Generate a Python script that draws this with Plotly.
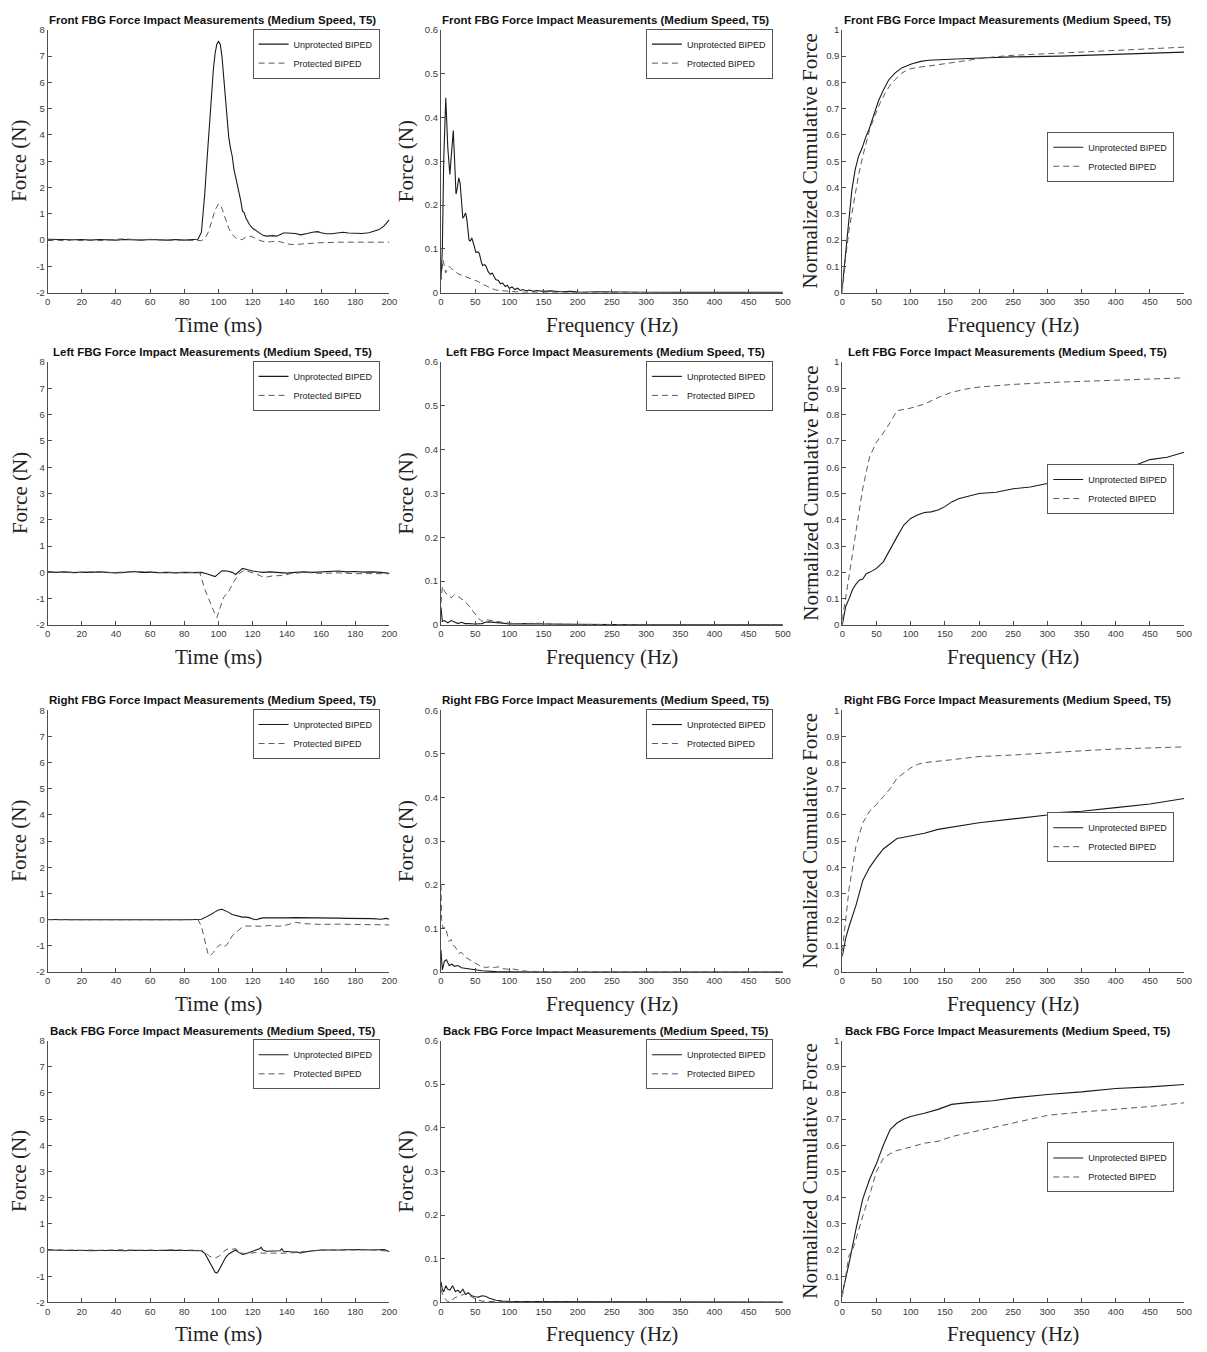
import plotly.graph_objects as go

# ------------------------------------------------------------------ data
# ---- Front sensor
front_time_unp_t = [0, 5, 10, 15, 20, 25, 30, 35, 40, 45, 50, 55, 60, 65, 70, 75, 80, 85, 88, 90, 91, 92, 93, 94, 95, 96, 97, 98, 99, 100,
                    101, 102, 103, 104, 105, 106, 107, 108, 109, 110, 111, 112, 113, 114, 115, 116, 117, 118, 120, 122, 124, 126, 128,
                    130, 132, 134, 136, 138, 140, 142, 145, 148, 150, 152, 155, 158, 160, 163, 166, 170, 173, 176, 180, 184, 188, 191,
                    194, 197, 200]
front_time_unp_y = [0.03, 0.02, 0.03, 0.01, 0.02, 0.0, 0.02, 0.01, 0.0, 0.02, 0.01, 0.0, 0.02, 0.01, 0.0, 0.02, 0.0, 0.02, 0.03, 0.3, 1.0,
                    1.8, 2.8, 3.8, 4.8, 5.7, 6.5, 7.1, 7.45, 7.56, 7.45, 7.0, 6.2, 5.3, 4.5, 3.9, 3.5, 3.2, 2.7, 2.4, 2.2, 1.9, 1.5, 1.1,
                    1.05, 0.85, 0.7, 0.6, 0.45, 0.35, 0.27, 0.18, 0.15, 0.16, 0.17, 0.15, 0.22, 0.27, 0.27, 0.27, 0.25, 0.2, 0.22, 0.25,
                    0.3, 0.32, 0.28, 0.24, 0.24, 0.27, 0.3, 0.27, 0.26, 0.25, 0.28, 0.33, 0.4, 0.55, 0.78]
front_time_pro_t = [0, 5, 10, 15, 20, 25, 30, 35, 40, 45, 50, 55, 60, 65, 70, 75, 80, 85, 90, 92, 94, 96, 98, 100, 101, 102, 104, 106, 108,
                    110, 112, 114, 116, 118, 120, 122, 125, 128, 131, 134, 137, 140, 144, 148, 152, 160, 170, 180, 190, 195, 200]
front_time_pro_y = [-0.02, 0.0, -0.03, 0.01, -0.02, 0.0, -0.02, 0.0, 0.01, 0.05, 0.02, 0.0, 0.03, 0.01, -0.01, 0.0, -0.01, 0.0, -0.02,
                    0.05, 0.3, 0.7, 1.15, 1.38, 1.35, 1.2, 0.8, 0.45, 0.22, 0.08, 0.03, 0.02, 0.12, 0.15, 0.12, 0.04, -0.03, -0.08, -0.06,
                    -0.04, -0.08, -0.15, -0.17, -0.15, -0.12, -0.1, -0.08, -0.08, -0.08, -0.1, -0.08]

front_fft_unp_f = [0, 2, 4, 7, 10, 13, 16, 18, 20, 22, 24, 26, 28, 30, 32, 34, 36, 38, 41, 43, 45, 48, 51, 54, 56, 59, 61, 64, 66, 69, 72,
                   75, 77, 80, 84, 87, 90, 94, 97, 100, 104, 108, 112, 116, 120, 125, 130, 135, 140, 150, 160, 175, 190, 205, 230, 260,
                   300, 350, 400, 450, 500]
front_fft_unp_y = [0.03, 0.1, 0.3, 0.445, 0.33, 0.27, 0.33, 0.37, 0.3, 0.225, 0.24, 0.262, 0.25, 0.2, 0.17, 0.175, 0.182, 0.165, 0.12,
                   0.118, 0.125, 0.11, 0.092, 0.093, 0.09, 0.07, 0.062, 0.064, 0.06, 0.048, 0.042, 0.045, 0.04, 0.03, 0.028, 0.02, 0.022,
                   0.014, 0.017, 0.01, 0.013, 0.007, 0.01, 0.005, 0.007, 0.004, 0.006, 0.003, 0.005, 0.003, 0.004, 0.002, 0.003, 0.001,
                   0.002, 0.001, 0.001, 0.0005, 0.0005, 0.0005, 0.0005]
front_fft_pro_f = [0, 3, 5, 7, 10, 12, 15, 20, 25, 30, 35, 40, 45, 50, 55, 60, 65, 70, 75, 80, 90, 100, 110, 120, 150, 200, 300, 400, 500]
front_fft_pro_y = [0.03, 0.075, 0.06, 0.045, 0.055, 0.06, 0.055, 0.048, 0.043, 0.04, 0.037, 0.033, 0.03, 0.028, 0.025, 0.02, 0.016,
                   0.012, 0.009, 0.006, 0.004, 0.003, 0.002, 0.001, 0.001, 0.0005, 0.0, 0.0, 0.0]

front_cum_unp_f = [0, 3, 7, 10, 14, 19, 24, 29, 34, 39, 45, 53, 60, 68, 77, 87, 101, 115, 126, 150, 175, 203, 250, 319, 400, 500]
front_cum_unp_y = [0.02, 0.1, 0.2, 0.285, 0.39, 0.47, 0.52, 0.55, 0.59, 0.62, 0.67, 0.73, 0.77, 0.81, 0.835, 0.855, 0.87, 0.88, 0.884,
                   0.888, 0.89, 0.893, 0.897, 0.9, 0.907, 0.915]
front_cum_pro_f = [0, 5, 10, 14.5, 20, 24, 30, 34, 40, 48, 55, 63, 70, 77, 87, 97, 110, 126, 150, 174, 200, 222, 250, 319, 415, 500]
front_cum_pro_y = [0.0, 0.135, 0.24, 0.31, 0.39, 0.45, 0.52, 0.56, 0.62, 0.675, 0.72, 0.76, 0.79, 0.81, 0.835, 0.85, 0.857, 0.862, 0.87,
                   0.88, 0.89, 0.897, 0.903, 0.912, 0.925, 0.934]

# ---- Left sensor
left_time_unp_t = [0, 5, 10, 15, 20, 25, 30, 35, 40, 45, 50, 55, 60, 65, 70, 75, 80, 85, 90, 93, 96, 98, 100, 102, 105, 108, 110, 112, 114,
                   116, 118, 120, 123, 126, 130, 135, 140, 145, 150, 155, 160, 165, 170, 175, 180, 185, 190, 195, 200]
left_time_unp_y = [0.03, 0.0, 0.02, -0.01, 0.01, 0.0, 0.02, 0.0, -0.02, 0.0, 0.03, 0.0, 0.01, -0.01, 0.0, -0.02, 0.0, -0.01, 0.0, -0.05,
                   -0.1, -0.16, -0.05, 0.06, 0.05, 0.0, -0.08, 0.05, 0.15, 0.12, 0.08, 0.05, 0.02, 0.0, 0.02, 0.0, -0.03, 0.0, 0.02, 0.0,
                   0.02, 0.03, 0.05, 0.02, 0.03, 0.01, 0.02, 0.0, -0.04]
left_time_pro_t = [0, 5, 10, 15, 20, 25, 30, 35, 40, 45, 50, 55, 60, 65, 70, 75, 80, 85, 89, 92, 95, 98, 99, 101, 103, 106, 109, 112, 115,
                   118, 122, 125, 128, 132, 138, 142, 150, 160, 170, 180, 190, 200]
left_time_pro_y = [0.02, 0.0, 0.01, 0.0, -0.01, 0.02, 0.0, -0.01, 0.0, 0.0, 0.02, 0.03, 0.0, -0.01, 0.0, 0.0, 0.02, 0.0, 0.0, -0.65,
                   -1.15, -1.6, -1.72, -1.35, -0.95, -0.72, -0.35, -0.05, 0.08, 0.02, -0.06, -0.15, -0.18, -0.13, -0.12, -0.05, 0.0,
                   -0.04, -0.02, -0.05, -0.06, -0.05]

left_fft_unp_f = [0, 2, 5, 8, 10, 15, 20, 25, 30, 35, 40, 50, 60, 65, 70, 80, 90, 100, 120, 150, 200, 300, 400, 500]
left_fft_unp_y = [0.04, 0.008, 0.01, 0.006, 0.005, 0.01, 0.006, 0.003, 0.006, 0.003, 0.003, 0.002, 0.003, 0.006, 0.007, 0.006, 0.004,
                  0.002, 0.003, 0.002, 0.001, 0.0005, 0.0005, 0.0005]
left_fft_pro_f = [0, 2, 5, 10, 15, 20, 25, 30, 35, 40, 45, 50, 55, 60, 65, 70, 80, 90, 100, 120, 140, 160, 200, 300, 400, 500]
left_fft_pro_y = [0.05, 0.088, 0.077, 0.068, 0.062, 0.069, 0.065, 0.06, 0.054, 0.045, 0.035, 0.024, 0.015, 0.008, 0.012, 0.011, 0.008,
                  0.006, 0.004, 0.003, 0.004, 0.002, 0.001, 0.0005, 0.0005, 0.0005]

left_cum_unp_f = [0, 5, 10, 15, 20, 25, 30, 35, 40, 50, 60, 70, 80, 90, 100, 110, 120, 130, 140, 150, 160, 170, 180, 200, 225, 250, 275,
                  300, 325, 350, 375, 400, 425, 450, 475, 500]
left_cum_unp_y = [0.0, 0.07, 0.1, 0.135, 0.155, 0.17, 0.175, 0.195, 0.2, 0.215, 0.24, 0.29, 0.335, 0.38, 0.405, 0.418, 0.428, 0.43, 0.437,
                  0.45, 0.468, 0.48, 0.487, 0.5, 0.505, 0.518, 0.525, 0.538, 0.548, 0.562, 0.569, 0.588, 0.604, 0.629, 0.638, 0.657]
left_cum_pro_f = [0, 5, 10, 20, 30, 40, 50, 60, 70, 80, 90, 100, 120, 140, 160, 180, 200, 250, 300, 350, 400, 450, 500]
left_cum_pro_y = [0.02, 0.1, 0.19, 0.355, 0.52, 0.64, 0.695, 0.73, 0.77, 0.815, 0.82, 0.825, 0.84, 0.865, 0.885, 0.897, 0.905, 0.915,
                  0.922, 0.926, 0.93, 0.934, 0.94]

# ---- Right sensor
right_time_unp_t = [0, 5, 10, 15, 20, 25, 30, 35, 40, 45, 50, 55, 60, 65, 70, 75, 80, 85, 88, 90, 92, 94, 96, 98, 100, 102, 104, 106, 108,
                    110, 112, 114, 116, 118, 120, 122, 124, 126, 130, 135, 140, 145, 150, 155, 160, 165, 170, 175, 180, 185, 190, 195,
                    198, 200]
right_time_unp_y = [0.01, 0.0, 0.01, 0.0, 0.0, 0.01, 0.0, 0.0, 0.01, 0.0, 0.0, 0.01, 0.0, 0.0, 0.01, 0.0, 0.0, 0.01, 0.0, 0.02, 0.08,
                    0.14, 0.22, 0.3, 0.37, 0.4, 0.35, 0.28, 0.2, 0.17, 0.12, 0.1, 0.1, 0.08, 0.03, 0.0, 0.04, 0.07, 0.07, 0.06, 0.07,
                    0.08, 0.08, 0.07, 0.06, 0.07, 0.06, 0.05, 0.05, 0.06, 0.04, 0.02, 0.05, 0.02]
right_time_pro_t = [0, 5, 10, 15, 20, 25, 30, 35, 40, 45, 50, 55, 60, 65, 70, 75, 80, 85, 88, 90, 92, 94, 95, 97, 99, 101, 103, 105, 108,
                    111, 114, 116, 120, 125, 130, 135, 140, 145, 150, 160, 170, 180, 190, 200]
right_time_pro_y = [0.0, 0.01, 0.0, 0.0, 0.01, 0.0, 0.0, 0.01, 0.0, 0.0, 0.0, 0.01, 0.0, 0.0, 0.0, 0.01, 0.0, 0.0, 0.0, -0.25, -0.85,
                    -1.35, -1.38, -1.25, -1.06, -0.95, -1.05, -0.95, -0.62, -0.43, -0.27, -0.24, -0.25, -0.25, -0.22, -0.25, -0.2,
                    -0.1, -0.15, -0.18, -0.17, -0.18, -0.18, -0.2]

right_fft_unp_f = [0, 1, 2, 5, 8, 12, 16, 20, 25, 30, 40, 50, 60, 80, 100, 150, 200, 300, 400, 500]
right_fft_unp_y = [0.05, 0.02, 0.005, 0.025, 0.028, 0.015, 0.018, 0.013, 0.015, 0.01, 0.008, 0.005, 0.003, 0.001, 0.0005, 0.0003,
                   0.0003, 0.0003, 0.0003, 0.0003]
right_fft_pro_f = [0, 1, 3, 6, 9, 12, 15, 18, 22, 26, 30, 35, 40, 45, 50, 55, 60, 65, 70, 75, 80, 85, 90, 100, 105, 115, 125, 150, 200,
                   300, 400, 500]
right_fft_pro_y = [0.2, 0.12, 0.1, 0.103, 0.088, 0.07, 0.075, 0.062, 0.055, 0.043, 0.045, 0.035, 0.03, 0.025, 0.02, 0.016, 0.014, 0.01,
                   0.012, 0.01, 0.011, 0.012, 0.008, 0.006, 0.007, 0.004, 0.002, 0.001, 0.0005, 0.0003, 0.0003, 0.0003]

right_cum_unp_f = [0, 5, 10, 20, 30, 40, 50, 60, 70, 80, 90, 100, 120, 140, 160, 180, 200, 250, 275, 300, 310, 350, 400, 450, 500]
right_cum_unp_y = [0.06, 0.13, 0.175, 0.255, 0.35, 0.4, 0.437, 0.47, 0.49, 0.51, 0.515, 0.52, 0.53, 0.545, 0.553, 0.563, 0.57, 0.585,
                   0.592, 0.6, 0.608, 0.614, 0.628, 0.642, 0.663]
right_cum_pro_f = [0, 5, 10, 20, 30, 40, 50, 60, 70, 80, 90, 100, 110, 120, 150, 200, 250, 300, 350, 400, 450, 500]
right_cum_pro_y = [0.08, 0.2, 0.32, 0.48, 0.57, 0.615, 0.64, 0.67, 0.7, 0.74, 0.76, 0.78, 0.793, 0.8, 0.808, 0.823, 0.829, 0.838, 0.845,
                   0.852, 0.856, 0.86]

# ---- Back sensor
back_time_unp_t = [0, 5, 10, 15, 20, 25, 30, 35, 40, 45, 50, 55, 60, 65, 70, 75, 80, 85, 90, 92, 94, 96, 98, 99, 100, 102, 104, 106, 108,
                   110, 112, 114, 116, 118, 120, 122, 124, 125, 126, 128, 130, 134, 136, 137, 138, 142, 146, 148, 150, 155, 160, 170,
                   180, 190, 197, 200]
back_time_unp_y = [0.0, -0.01, 0.0, -0.02, -0.01, -0.03, -0.02, -0.01, -0.02, -0.03, -0.01, -0.02, -0.03, -0.02, -0.01, -0.02, -0.01,
                   -0.02, -0.03, -0.13, -0.38, -0.66, -0.85, -0.88, -0.8, -0.55, -0.3, -0.15, -0.06, 0.0, -0.1, -0.17, -0.14, -0.1,
                   -0.05, 0.0, 0.05, 0.1, 0.0, -0.05, -0.05, -0.05, -0.03, 0.05, -0.05, -0.07, -0.08, -0.12, -0.08, -0.03, 0.0, 0.0,
                   0.02, 0.0, 0.02, -0.07]
back_time_pro_t = [0, 5, 10, 15, 20, 25, 30, 35, 40, 45, 50, 55, 60, 65, 70, 75, 80, 85, 90, 92, 95, 98, 100, 102, 104, 106, 108, 110, 112,
                   114, 118, 122, 126, 130, 135, 140, 145, 150, 160, 170, 180, 190, 200]
back_time_pro_y = [0.0, 0.01, -0.01, 0.0, -0.02, 0.0, -0.01, 0.0, -0.01, 0.01, -0.01, 0.0, 0.0, -0.01, 0.0, 0.01, -0.01, 0.0, -0.02,
                   -0.08, -0.25, -0.3, -0.25, -0.15, 0.0, 0.05, 0.03, 0.05, -0.05, -0.13, -0.12, -0.1, -0.12, -0.12, -0.13, -0.12,
                   -0.1, -0.06, -0.01, 0.0, 0.02, 0.01, -0.05]

back_fft_unp_f = [0, 2, 4, 7, 10, 13, 17, 21, 25, 28, 32, 36, 40, 45, 50, 55, 60, 65, 70, 80, 90, 100, 120, 150, 200, 300, 400, 500]
back_fft_unp_y = [0.047, 0.03, 0.024, 0.038, 0.03, 0.028, 0.038, 0.025, 0.028, 0.022, 0.03, 0.018, 0.022, 0.015, 0.013, 0.012, 0.015,
                  0.014, 0.01, 0.005, 0.003, 0.002, 0.002, 0.002, 0.001, 0.0005, 0.0005, 0.0005]
back_fft_pro_f = [0, 3, 6, 10, 14, 18, 22, 26, 30, 35, 40, 45, 50, 55, 60, 70, 100, 150, 200, 300, 400, 500]
back_fft_pro_y = [0.03, 0.015, 0.008, 0.002, 0.0, 0.008, 0.012, 0.013, 0.016, 0.02, 0.017, 0.012, 0.008, 0.005, 0.003, 0.002, 0.001,
                  0.0005, 0.0005, 0.0003, 0.0003, 0.0003]

back_cum_unp_f = [0, 5, 10, 20, 30, 40, 50, 60, 70, 80, 90, 100, 120, 140, 160, 180, 200, 220, 250, 300, 350, 400, 450, 500]
back_cum_unp_y = [0.035, 0.09, 0.15, 0.28, 0.395, 0.47, 0.53, 0.6, 0.66, 0.685, 0.7, 0.71, 0.722, 0.737, 0.756, 0.762, 0.766, 0.77,
                  0.781, 0.794, 0.804, 0.817, 0.823, 0.832]
back_cum_pro_f = [0, 5, 10, 15, 20, 30, 40, 50, 60, 70, 80, 100, 120, 140, 160, 180, 200, 225, 250, 300, 350, 400, 450, 500]
back_cum_pro_y = [0.02, 0.1, 0.18, 0.2, 0.24, 0.33, 0.41, 0.5, 0.55, 0.568, 0.58, 0.593, 0.608, 0.615, 0.633, 0.645, 0.655, 0.67, 0.685,
                  0.714, 0.727, 0.737, 0.748, 0.762]

sensors = ["Front", "Left", "Right", "Back"]
series_names = ["Unprotected BIPED", "Protected BIPED"]
time_ticks = [-2, -1, 0, 1, 2, 3, 4, 5, 6, 7, 8]
time_tick_labels = ["-2", "-1", "0", "1", "2", "3", "4", "5", "6", "7", "8"]

panels = [
    [(front_time_unp_t, front_time_unp_y, front_time_pro_t, front_time_pro_y),
     (front_fft_unp_f, front_fft_unp_y, front_fft_pro_f, front_fft_pro_y),
     (front_cum_unp_f, front_cum_unp_y, front_cum_pro_f, front_cum_pro_y)],
    [(left_time_unp_t, left_time_unp_y, left_time_pro_t, left_time_pro_y),
     (left_fft_unp_f, left_fft_unp_y, left_fft_pro_f, left_fft_pro_y),
     (left_cum_unp_f, left_cum_unp_y, left_cum_pro_f, left_cum_pro_y)],
    [(right_time_unp_t, right_time_unp_y, right_time_pro_t, right_time_pro_y),
     (right_fft_unp_f, right_fft_unp_y, right_fft_pro_f, right_fft_pro_y),
     (right_cum_unp_f, right_cum_unp_y, right_cum_pro_f, right_cum_pro_y)],
    [(back_time_unp_t, back_time_unp_y, back_time_pro_t, back_time_pro_y),
     (back_fft_unp_f, back_fft_unp_y, back_fft_pro_f, back_fft_pro_y),
     (back_cum_unp_f, back_cum_unp_y, back_cum_pro_f, back_cum_pro_y)],
]

# ------------------------------------------------------------------ layout
W, H = 1207, 1352
COL_PX = [(45, 390), (442, 787), (847, 1192)]
ROW_PX = [(24, 289), (359, 624), (710, 974), (1043, 1307)]
SANS = "Liberation Sans, Arial, sans-serif"
SERIF = "Liberation Serif, Times New Roman, serif"
AXCOL = "#4d4d4d"
TICKFONT = dict(family=SANS, size=9.5, color="#3a3a3a")

col_cfg = [
    dict(xr=[0, 200], xd=20, yr=[-2, 8], xt="Time (ms)", yt="Force (N)", ytoff=28, leg_dy=24),
    dict(xr=[0, 500], xd=50, yr=[0, 0.6], yd=0.1, xt="Frequency (Hz)", yt="Force (N)", ytoff=35, leg_dy=24),
    dict(xr=[0, 500], xd=50, yr=[0, 1], yd=0.1, xt="Frequency (Hz)", yt="Normalized Cumulative Force", ytoff=32, leg_dy=128),
]

fig = go.Figure()
layout = dict(width=W, height=H, margin=dict(l=0, r=0, t=0, b=0), paper_bgcolor="white", plot_bgcolor="white",
              showlegend=True, annotations=[])

idx = 0
for r, sensor in enumerate(sensors):
    for c in range(3):
        idx += 1
        sfx = "" if idx == 1 else str(idx)
        cfg = col_cfg[c]
        x0, x1 = COL_PX[c]
        y0, y1 = ROW_PX[r]
        xdom = [x0 / W, x1 / W]
        ydom = [1 - y1 / H, 1 - y0 / H]
        xu, yu, xp, yp = panels[r][c]
        legname = "legend" + sfx
        fig.add_trace(go.Scatter(x=xu, y=yu, mode="lines", name=series_names[0],
                                 line=dict(color="#1a1a1a", width=1.1), xaxis="x" + sfx, yaxis="y" + sfx,
                                 legend=legname))
        fig.add_trace(go.Scatter(x=xp, y=yp, mode="lines", name=series_names[1],
                                 line=dict(color="#5a5a5a", width=1, dash="6px,4px"), xaxis="x" + sfx, yaxis="y" + sfx,
                                 legend=legname))
        xa = dict(domain=xdom, anchor="y" + sfx, range=cfg["xr"], dtick=cfg["xd"], tick0=0, showgrid=False,
                  zeroline=False, showline=True, linecolor=AXCOL, linewidth=1, ticks="inside", ticklen=4,
                  tickcolor=AXCOL, tickfont=TICKFONT)
        ya = dict(domain=ydom, anchor="x" + sfx, range=cfg["yr"], showgrid=False, zeroline=False, showline=True,
                  linecolor=AXCOL, linewidth=1, ticks="inside", ticklen=4, tickcolor=AXCOL, tickfont=TICKFONT)
        if c == 0:
            ya.update(tickvals=time_ticks, ticktext=time_tick_labels)
        else:
            ya.update(dtick=cfg["yd"], tick0=0)
        layout["xaxis" + sfx] = xa
        layout["yaxis" + sfx] = ya
        layout[legname] = dict(x=(x1 - 10) / W, y=1 - (y0 + cfg["leg_dy"]) / H, xanchor="right", yanchor="middle",
                               bgcolor="white", bordercolor="#555555", borderwidth=1,
                               font=dict(family=SANS, size=9, color="#222222"), tracegroupgap=0)
        xref = "x" + sfx + " domain"
        yref = "y" + sfx + " domain"
        layout["annotations"] += [
            dict(text="<b>%s FBG Force Impact Measurements (Medium Speed, T5)</b>" % sensor, xref=xref, yref=yref,
                 x=0.5, y=1, xanchor="center", yanchor="bottom", yshift=2, xshift=-6, showarrow=False,
                 font=dict(family=SANS, size=11.5, color="#111111")),
            dict(text=cfg["xt"], xref=xref, yref=yref, x=0.5, y=0, xanchor="center", yanchor="middle", yshift=-32,
                 showarrow=False, font=dict(family=SERIF, size=21, color="#222222")),
            dict(text=cfg["yt"], xref=xref, yref=yref, x=0, y=0.5, xanchor="center", yanchor="middle",
                 xshift=-cfg["ytoff"], textangle=-90, showarrow=False,
                 font=dict(family=SERIF, size=21, color="#222222")),
        ]

fig.update_layout(**layout)
fig.write_html("out.html")
